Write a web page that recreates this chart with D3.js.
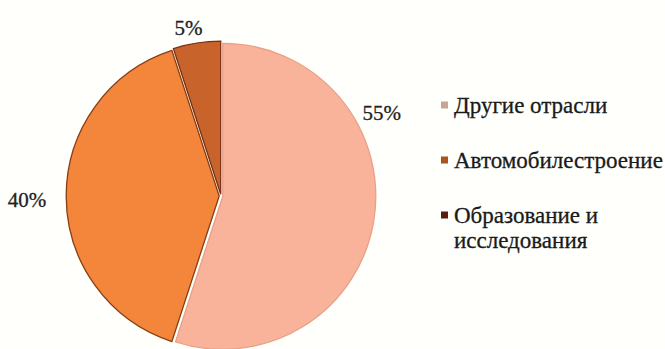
<!DOCTYPE html>
<html>
<head>
<meta charset="utf-8">
<script src="https://cdn.jsdelivr.net/npm/d3@7"></script>
<style>
  body { margin: 0; background: #fffffc; }
  svg { display: block; }
</style>
</head>
<body>
<svg id="chart"></svg>
<script>
const categories = ["Другие отрасли", "Автомобилестроение", "Образование и исследования"];
const values = [55, 40, 5];
const pctLabels = ["55%", "40%", "5%"];
const legendLines = [["Другие отрасли"], ["Автомобилестроение"], ["Образование и", "исследования"]];

const sliceColors = ["#f8b39a", "#f3863a", "#c8642b"];
const sliceStroke = ["#e9a088", "#8a3c12", "#7a3010"];
const legendColors = ["#caa394", "#a9531f", "#5b1c10"];

let width = 665;
let height = 349;

let svg = d3.select("#chart")
    .attr("width", width)
    .attr("height", height)

let cx = 221, cy = 196, radius = 153;

let pie = d3.pie().sort(null).value(d => d)
let arcs = pie(values)

let arc = d3.arc().innerRadius(0).outerRadius(radius)

let body = svg.append("g")
    .attr("transform", `translate(${cx},${cy})`)

// small explode so the white gaps show between slices
body.selectAll("path")
    .data(arcs)
    .enter()
    .append("path")
    .attr("d", arc)
    .attr("fill", (d, i) => sliceColors[i])
    .attr("stroke", (d, i) => sliceStroke[i])
    .attr("stroke-width", 1.3)
    .attr("transform", d => {
        let a = (d.startAngle + d.endAngle) / 2
        let off = 1.8
        return `translate(${Math.sin(a) * off},${-Math.cos(a) * off})`
    })

// percent labels placed outside (best-fit style nudges)
let labelArc = d3.arc().innerRadius(radius + 30).outerRadius(radius + 30)
let labelNudge = [[-20, -112], [-11, 4], [-4, 13]]

body.selectAll(".pct")
    .data(arcs)
    .enter()
    .append("text")
    .attr("class", "pct")
    .attr("x", (d, i) => labelArc.centroid(d)[0] + labelNudge[i][0])
    .attr("y", (d, i) => labelArc.centroid(d)[1] + labelNudge[i][1])
    .attr("text-anchor", "middle")
    .attr("dominant-baseline", "central")
    .attr("font-family", "Liberation Serif, serif")
    .attr("font-size", 21)
    .attr("fill", "#222")
    .attr("stroke", "#222")
    .attr("stroke-width", 0.3)
    .text((d, i) => pctLabels[i])

// legend
let rowY = d3.scalePoint()
    .domain(categories)
    .range([105, 215])

let legend = svg.append("g")

let items = legend.selectAll("g")
    .data(categories)
    .enter()
    .append("g")
    .attr("transform", d => `translate(441,${rowY(d)})`)

items.append("rect")
    .attr("x", 0)
    .attr("y", -3.5)
    .attr("width", 7)
    .attr("height", 7)
    .attr("fill", (d, i) => legendColors[i])

items.append("text")
    .attr("font-family", "Liberation Serif, serif")
    .attr("font-size", 23)
    .attr("fill", "#1a1a1a")
    .attr("stroke", "#1a1a1a")
    .attr("stroke-width", 0.3)
    .selectAll("tspan")
    .data((d, i) => legendLines[i])
    .enter()
    .append("tspan")
    .attr("x", 13)
    .attr("y", (d, j) => j * 25)
    .attr("dominant-baseline", "central")
    .text(d => d)
</script>
</body>
</html>
